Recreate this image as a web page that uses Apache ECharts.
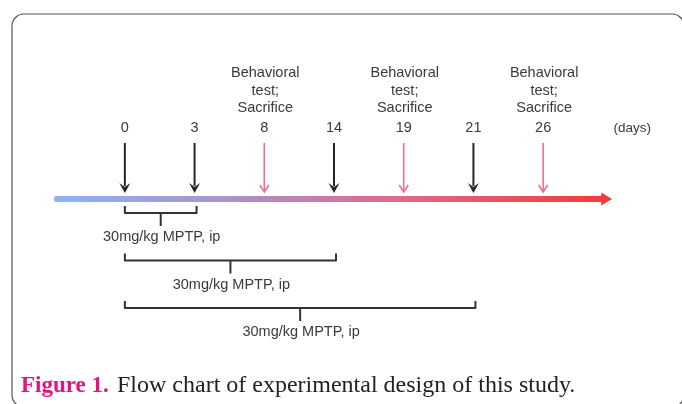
<!DOCTYPE html>
<html>
<head>
<meta charset="utf-8">
<script src="https://cdn.jsdelivr.net/npm/echarts@6/dist/echarts.min.js"></script>
<style>html,body{margin:0;padding:0;background:#fff;}#c{width:682px;height:404px;}</style>
</head>
<body>
<div id="c"></div>
<script>
// ---- data ----
const days = ['0', '3', '8', '14', '19', '21', '26'];
const eventType = ['MPTP', 'MPTP', 'test', 'MPTP', 'test', 'MPTP', 'test'];
const testLabel = ['Behavioral', 'test;', 'Sacrifice'];
const unitLabel = '(days)';
const bracketStart = ['0', '0', '0'];
const bracketEnd = ['3', '14', '21'];
const bracketLabel = ['30mg/kg MPTP, ip', '30mg/kg MPTP, ip', '30mg/kg MPTP, ip'];
const captionHead = 'Figure 1.';
const captionBody = 'Flow chart of experimental design of this study.';

const chart = echarts.init(document.getElementById('c'));
const textColor = '#3a3a3a';
const sansFont = '"Liberation Sans", Arial, sans-serif';
const serifFont = '"Liberation Serif", "Times New Roman", serif';

function txt(x, y, s, extra) {
  return {
    type: 'text',
    style: Object.assign({
      x: x, y: y, text: s, fill: textColor,
      font: '14.5px ' + sansFont, align: 'center', verticalAlign: 'middle'
    }, extra || {})
  };
}

const option = {
  animation: false,
  grid: { left: 90, width: 488, top: 0, bottom: 0 },
  xAxis: { type: 'category', data: days, show: false, boundaryGap: true },
  yAxis: { type: 'value', min: 0, max: 1, show: false },
  graphic: [
    {
      type: 'rect',
      shape: { x: 12, y: 14, width: 672, height: 393, r: 12 },
      style: { fill: 'none', stroke: '#555', lineWidth: 1.2 }
    },
    {
      type: 'text',
      style: {
        x: 21, y: 386, text: captionHead, fill: '#e5127f',
        font: 'bold 23px ' + serifFont, verticalAlign: 'middle'
      }
    },
    {
      type: 'text',
      style: {
        x: 117, y: 386, text: captionBody, fill: '#222',
        font: '24px ' + serifFont, verticalAlign: 'middle'
      }
    }
  ],
  series: [
    {
      // timeline
      type: 'custom',
      clip: false,
      data: [[0, 0]],
      renderItem: function (params, api) {
        const bw = api.size([1, 0])[0];
        const xs = api.coord([0, 0])[0] - bw * 1.02;
        const xe = api.coord([days.length - 1, 0])[0] + bw * 0.99;
        const y = 199;
        return {
          type: 'group',
          children: [
            {
              type: 'rect',
              shape: { x: xs, y: y - 3, width: xe - xs - 8, height: 6, r: 3 },
              style: {
                fill: new echarts.graphic.LinearGradient(0, 0, 1, 0, [
                  { offset: 0, color: '#8db3f3' },
                  { offset: 0.35, color: '#ad8fc6' },
                  { offset: 0.62, color: '#de6a8c' },
                  { offset: 1, color: '#f43a3a' }
                ])
              }
            },
            {
              type: 'polygon',
              shape: { points: [[xe - 11, y - 6.5], [xe, y], [xe - 11, y + 6.5]] },
              style: { fill: '#f43a3a' }
            },
            txt(xe + 20, 128, unitLabel, { font: '13.5px ' + sansFont })
          ]
        };
      }
    },
    {
      // event arrows
      type: 'custom',
      clip: false,
      data: days.map(function (d, i) { return [i, 0]; }),
      renderItem: function (params, api) {
        const i = params.dataIndex;
        const x = api.coord([api.value(0), 0])[0];
        const isTest = eventType[i] === 'test';
        const col = isTest ? '#ee6f8b' : '#262626';
        const children = [
          txt(x, 128, days[i]),
          {
            type: 'line',
            shape: { x1: x, y1: 143, x2: x, y2: isTest ? 191 : 186 },
            style: { stroke: col, lineWidth: isTest ? 1.6 : 2 }
          }
        ];
        if (isTest) {
          children.push({
            type: 'polyline',
            shape: { points: [[x - 4.5, 185], [x, 192], [x + 4.5, 185]] },
            style: { stroke: col, lineWidth: 1.6, fill: 'none' }
          });
          testLabel.forEach(function (s, k) {
            children.push(txt(x + 1, 73 + k * 17.5, s));
          });
        } else {
          children.push({
            type: 'polygon',
            shape: { points: [[x - 5.5, 183], [x, 187], [x + 5.5, 183], [x, 193]] },
            style: { fill: col }
          });
        }
        return { type: 'group', children: children };
      }
    },
    {
      // brackets
      type: 'custom',
      clip: false,
      data: bracketStart.map(function (s, k) {
        return [days.indexOf(s), days.indexOf(bracketEnd[k])];
      }),
      renderItem: function (params, api) {
        const k = params.dataIndex;
        const x1 = api.coord([api.value(0), 0])[0];
        const x2 = api.coord([api.value(1), 0])[0] + 2;
        const xm = (x1 + x2) / 2;
        const yH = 213 + k * 47.5;
        return {
          type: 'group',
          children: [
            {
              type: 'polyline',
              shape: { points: [[x1, yH - 7], [x1, yH], [x2, yH], [x2, yH - 7]] },
              style: { stroke: '#333', lineWidth: 2, fill: 'none', lineJoin: 'round' }
            },
            {
              type: 'line',
              shape: { x1: xm, y1: yH, x2: xm, y2: yH + 13 },
              style: { stroke: '#333', lineWidth: 2 }
            },
            txt(xm + 1, yH + 24, bracketLabel[k])
          ]
        };
      }
    }
  ]
};
chart.setOption(option);
</script>
</body>
</html>
